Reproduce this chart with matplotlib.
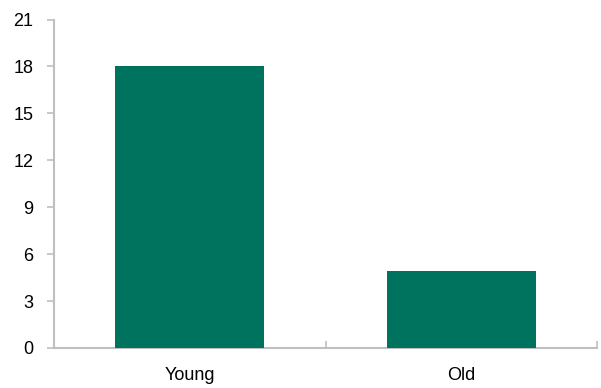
import matplotlib.pyplot as plt
from matplotlib.ticker import FixedLocator, NullFormatter

categories = ["Young", "Old"]
values = [18, 4.9]
yticks = [0, 3, 6, 9, 12, 15, 18, 21]

plt.rcParams['font.family'] = ['Liberation Sans', 'DejaVu Sans']

fig = plt.figure(figsize=(6.01, 3.88), dpi=100)
ax = fig.add_axes([54 / 601, 40 / 388, 543 / 601, 328.5 / 388])

x = list(range(len(categories)))
ax.bar(x, values, width=0.55, color="#00735F", zorder=3)

ax.set_xlim(-0.5, len(categories) - 0.5)
ax.set_ylim(0, 21)
ax.set_yticks(yticks)
ax.set_yticklabels([str(t) for t in yticks], fontsize=13)

# category labels as minor ticks, boundary marks as major ticks
ax.xaxis.set_major_locator(FixedLocator([i + 0.5 for i in x]))
ax.xaxis.set_major_formatter(NullFormatter())
ax.xaxis.set_minor_locator(FixedLocator(x))
ax.set_xticklabels(categories, minor=True, fontsize=13)
ax.tick_params(axis="x", which="minor", length=0, pad=14)
ax.tick_params(axis="x", which="major", direction="in", length=5, width=1.2, color="#BFBFBF")
ax.tick_params(axis="y", direction="out", length=5, width=1.2, color="#BFBFBF", pad=10)

for side in ["top", "right"]:
    ax.spines[side].set_visible(False)
for side in ["left", "bottom"]:
    ax.spines[side].set_color("#BFBFBF")
    ax.spines[side].set_linewidth(1.5)

fig.savefig("out.png", dpi=100)
